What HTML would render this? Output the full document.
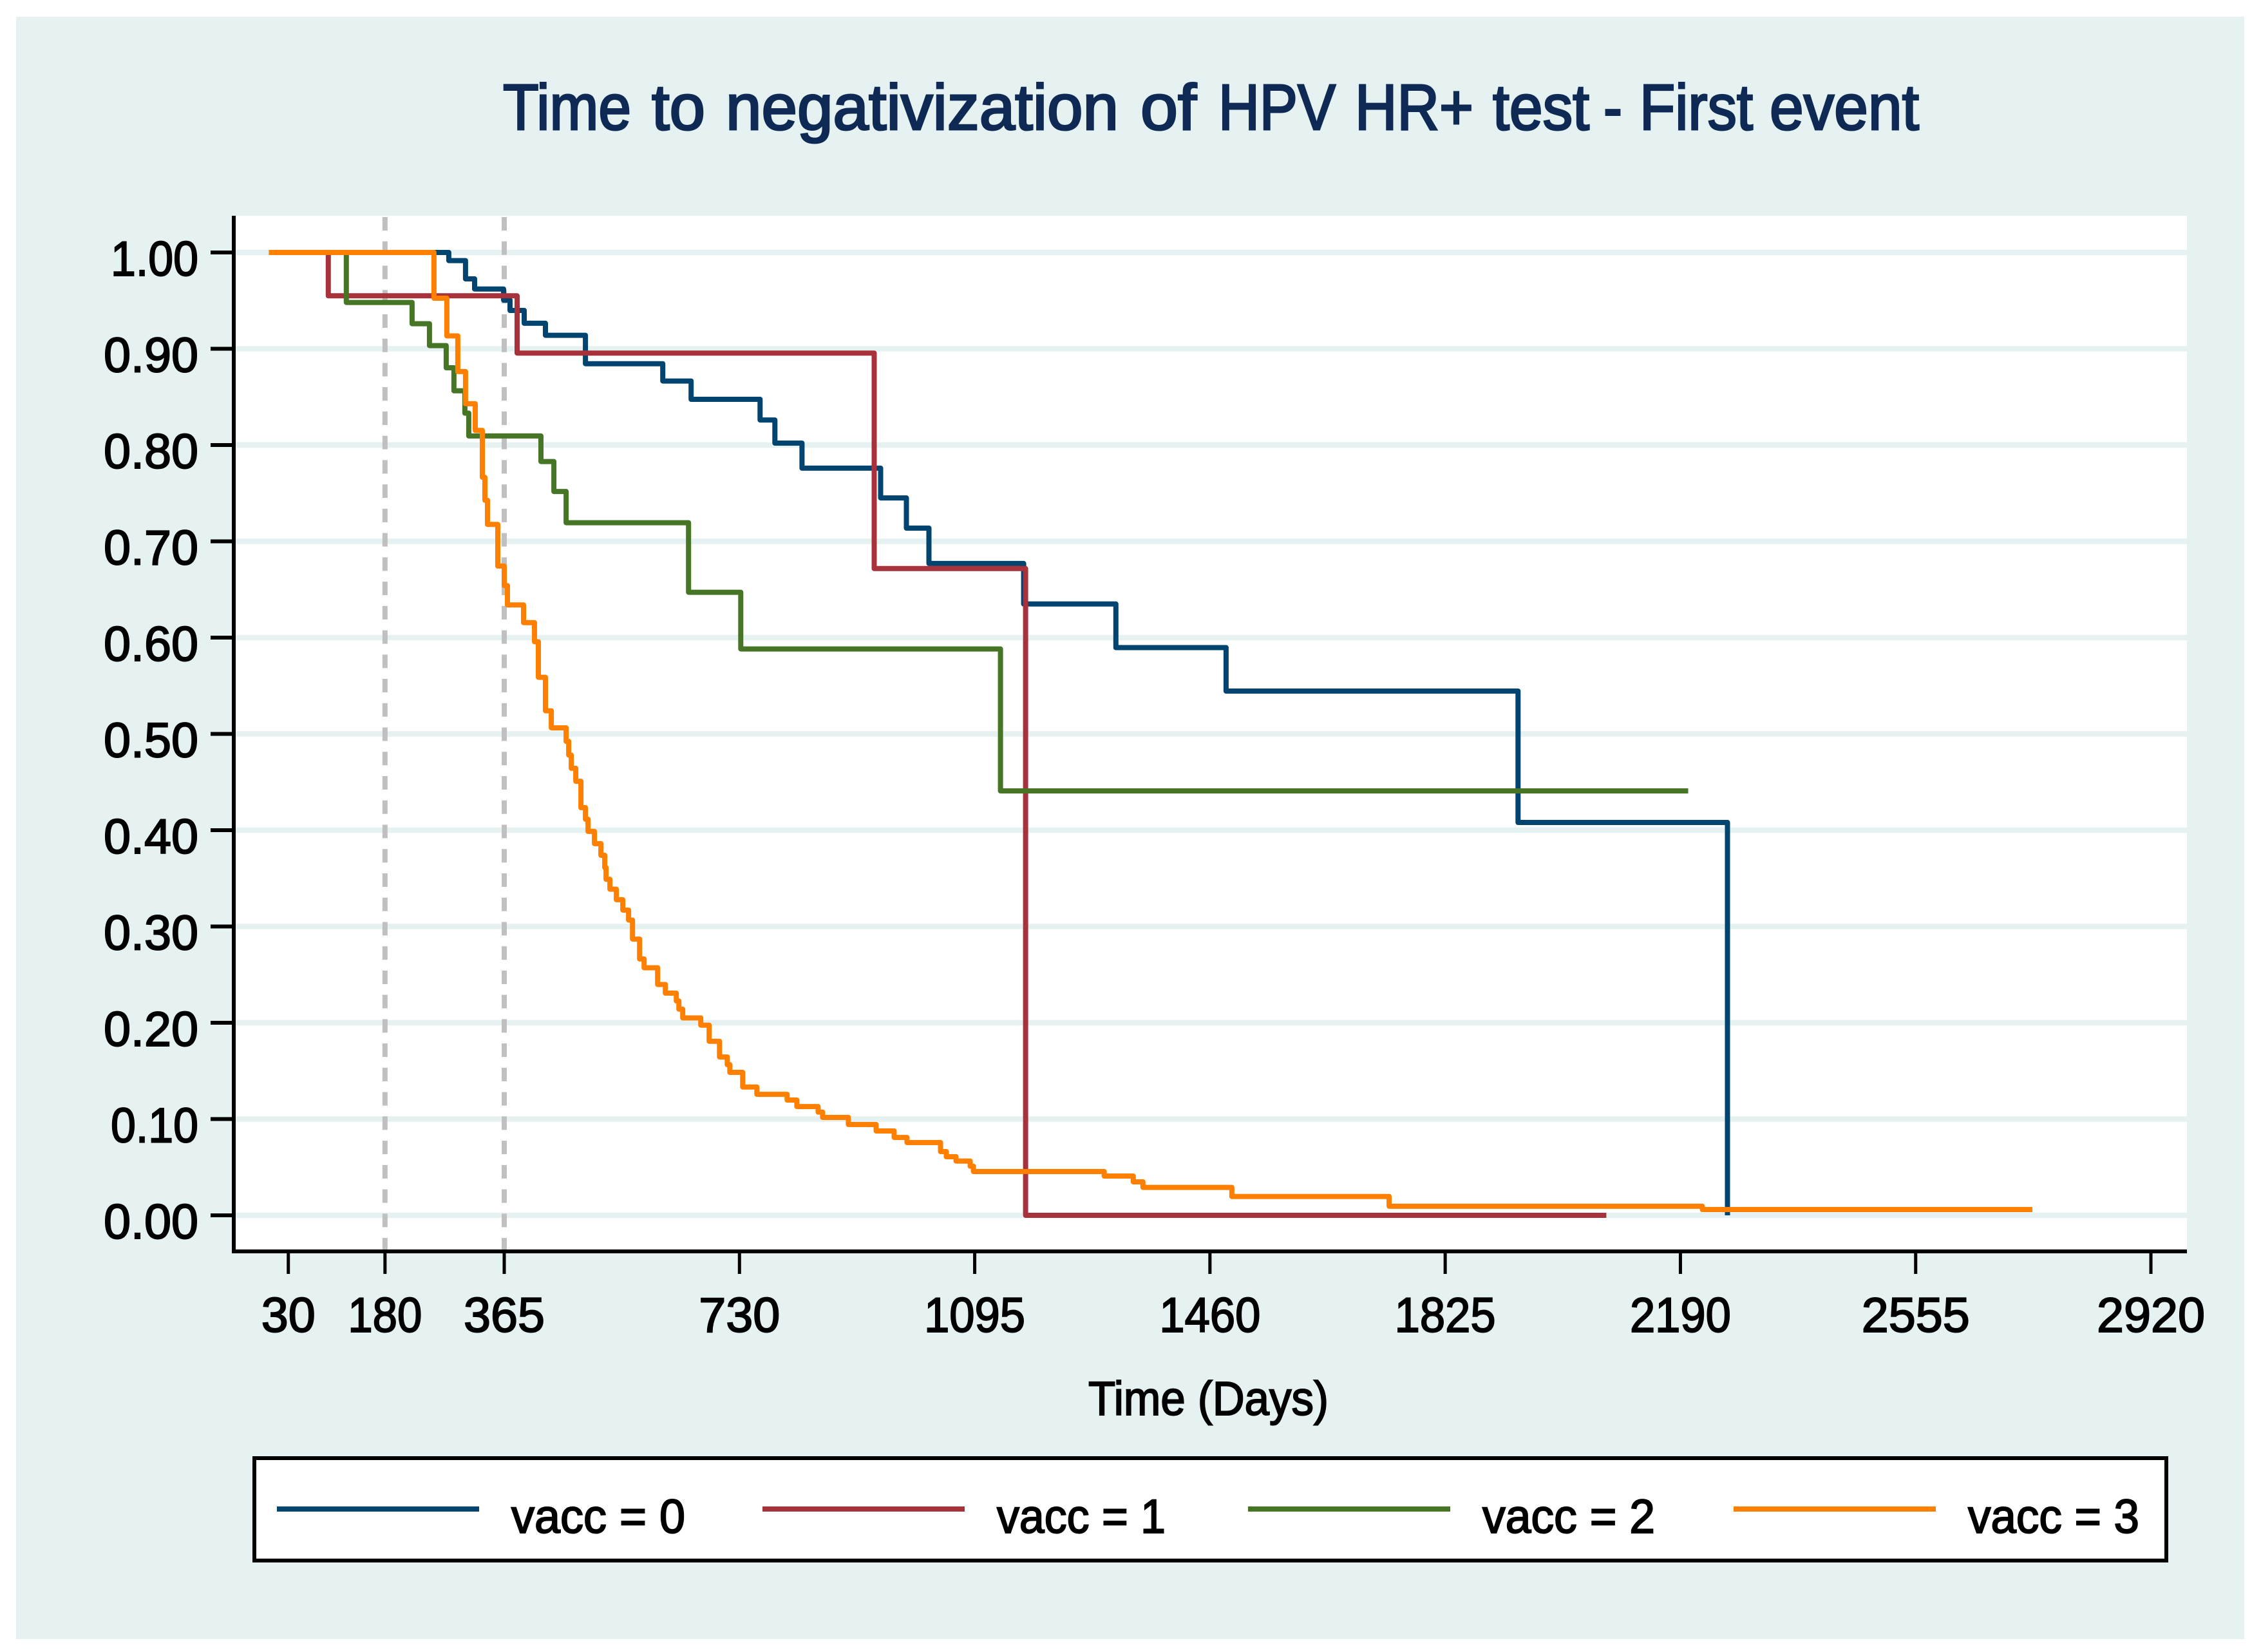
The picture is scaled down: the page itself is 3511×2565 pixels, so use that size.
<!DOCTYPE html>
<html lang="en">
<head>
<meta charset="utf-8">
<title>Time to negativization of HPV HR+ test - First event</title>
<style>
html,body{margin:0;padding:0;background:#fff;}
svg{display:block;}
text{font-family:"Liberation Sans",sans-serif;fill:#000;stroke:#000;stroke-width:2px;}
</style>
</head>
<body>
<svg id="chart" xmlns="http://www.w3.org/2000/svg" width="3511" height="2565" viewBox="0 0 3511 2565">
  <rect x="0" y="0" width="3511" height="2565" fill="#ffffff"/>
  <rect x="25" y="26" width="3460" height="2519" fill="#e6f2f1"/>
  <rect x="363" y="335" width="3033" height="1608" fill="#ffffff"/>
  <text y="201" font-size="100" style="fill:#0e2a54;stroke:#0e2a54;stroke-width:3px"><tspan x="781" textLength="199" lengthAdjust="spacingAndGlyphs">Time</tspan> <tspan x="1012" textLength="83" lengthAdjust="spacingAndGlyphs">to</tspan> <tspan x="1127" textLength="610" lengthAdjust="spacingAndGlyphs">negativization</tspan> <tspan x="1771" textLength="87" lengthAdjust="spacingAndGlyphs">of</tspan> <tspan x="1892" textLength="182" lengthAdjust="spacingAndGlyphs">HPV</tspan> <tspan x="2104" textLength="184" lengthAdjust="spacingAndGlyphs">HR+</tspan> <tspan x="2318" textLength="150" lengthAdjust="spacingAndGlyphs">test</tspan> <tspan x="2490" textLength="29" lengthAdjust="spacingAndGlyphs">-</tspan> <tspan x="2546" textLength="176" lengthAdjust="spacingAndGlyphs">First</tspan> <tspan x="2748" textLength="232" lengthAdjust="spacingAndGlyphs">event</tspan></text>
  <g id="grid"></g>
  <g id="reflines"></g>
  <g id="series"></g>
  <line x1="363" y1="335" x2="363" y2="1946" stroke="#000" stroke-width="6"/>
  <line x1="360" y1="1943" x2="3396" y2="1943" stroke="#000" stroke-width="6"/>
  <g id="yticks"></g>
  <g id="xticks"></g>
  <text x="1690" y="2197" font-size="74" textLength="373" lengthAdjust="spacingAndGlyphs">Time (Days)</text>
  <g>
    <rect x="395" y="2264" width="2969" height="159" fill="#fff" stroke="#000" stroke-width="6"/>
    <line x1="430" y1="2343" x2="744" y2="2343" stroke="#00446f" stroke-width="8"/>
    <text x="794" y="2380" font-size="74" textLength="270" lengthAdjust="spacingAndGlyphs">vacc = 0</text>
    <line x1="1184" y1="2343" x2="1498" y2="2343" stroke="#a8323c" stroke-width="8"/>
    <text x="1548" y="2380" font-size="74" textLength="262" lengthAdjust="spacingAndGlyphs">vacc = 1</text>
    <line x1="1938" y1="2343" x2="2252" y2="2343" stroke="#467526" stroke-width="8"/>
    <text x="2302" y="2380" font-size="74" textLength="268" lengthAdjust="spacingAndGlyphs">vacc = 2</text>
    <line x1="2692" y1="2343" x2="3006" y2="2343" stroke="#ff8000" stroke-width="8"/>
    <text x="3056" y="2380" font-size="74" textLength="266" lengthAdjust="spacingAndGlyphs">vacc = 3</text>
  </g>
</svg>
<script>
const xTickValues = [30, 180, 365, 730, 1095, 1460, 1825, 2190, 2555, 2920];
const xTickLabels = ["30", "180", "365", "730", "1095", "1460", "1825", "2190", "2555", "2920"];
const yTickValues = [0, 0.1, 0.2, 0.3, 0.4, 0.5, 0.6, 0.7, 0.8, 0.9, 1.0];
const yTickLabels = ["0.00", "0.10", "0.20", "0.30", "0.40", "0.50", "0.60", "0.70", "0.80", "0.90", "1.00"];
const refLineDays = [180, 365];

const vacc0Days = [279, 305, 319, 364, 374, 396, 429, 491, 611, 655, 762, 785, 827, 949, 989, 1024, 1171, 1314, 1485, 1938, 2263];
const vacc0Surv = [0.9916, 0.9726, 0.9621, 0.9505, 0.9398, 0.9265, 0.914, 0.8845, 0.8665, 0.8475, 0.826, 0.802, 0.776, 0.7451, 0.7137, 0.677, 0.6349, 0.5896, 0.5445, 0.408, 0];
const vacc0End = 2263;

const vacc1Days = [92, 385, 939, 1174];
const vacc1Surv = [0.955, 0.8955, 0.6717, 0];
const vacc1End = 2075;

const vacc2Days = [120, 222, 249, 275, 287, 304, 310, 422, 442, 461, 651, 732, 1135];
const vacc2Surv = [0.9481, 0.926, 0.9033, 0.8803, 0.8564, 0.8331, 0.8094, 0.7829, 0.7518, 0.7193, 0.6471, 0.5882, 0.4408];
const vacc2End = 2202;

const vacc3Days = [256, 276, 293, 305, 320, 331, 335, 339, 355, 365, 370, 395, 412, 418, 429, 438, 461, 465, 469, 476, 484, 491, 495, 505, 515, 521, 523, 529, 539, 549, 558, 564, 575, 582, 603, 615, 632, 636, 642, 670, 683, 699, 711, 715, 735, 757, 804, 819, 852, 859, 899, 942, 970, 990, 1042, 1051, 1066, 1088, 1093, 1296, 1341, 1356, 1494, 1738, 2224];
const vacc3Surv = [0.9525, 0.9134, 0.8763, 0.8429, 0.8152, 0.7665, 0.7426, 0.7176, 0.6743, 0.654, 0.634, 0.6155, 0.5957, 0.5588, 0.524, 0.5063, 0.4923, 0.478, 0.4643, 0.4508, 0.4234, 0.4114, 0.3987, 0.386, 0.3739, 0.3612, 0.349, 0.3387, 0.3278, 0.317, 0.3066, 0.2869, 0.2663, 0.2571, 0.2397, 0.2308, 0.2227, 0.2141, 0.205, 0.1975, 0.1808, 0.1645, 0.1565, 0.1485, 0.1333, 0.1257, 0.1197, 0.113, 0.1072, 0.1017, 0.0943, 0.0876, 0.0809, 0.0756, 0.0662, 0.0609, 0.0564, 0.051, 0.0455, 0.0408, 0.0348, 0.029, 0.0196, 0.0094, 0.006];
const vacc3End = 2736;

const SVG_NS = "http://www.w3.org/2000/svg";
function xScale(d) { return 417.7 + 1.0008 * d; }
function yScale(v) { return 1887 - 1495 * v; }
function stepPath(days, surv, end) {
  let cx = xScale(0), cy = yScale(1);
  let d = "M" + cx.toFixed(1) + " " + cy.toFixed(1);
  for (let i = 0; i < days.length; i++) {
    cx = xScale(days[i]);
    d += "H" + cx.toFixed(1);
    cy = yScale(surv[i]);
    d += "V" + cy.toFixed(1);
  }
  d += "H" + xScale(end).toFixed(1);
  return d;
}
function labelWidth(str) {
  let w = 0;
  for (const ch of str) {
    w += ch === "." ? 21 : (ch === "1" ? 31 : 42);
  }
  return w;
}

const gridGroup = document.getElementById("grid");
yTickValues.forEach(function (v) {
  const el = document.createElementNS(SVG_NS, "line");
  el.setAttribute("x1", 366);
  el.setAttribute("x2", 3396);
  el.setAttribute("y1", yScale(v));
  el.setAttribute("y2", yScale(v));
  el.setAttribute("stroke", "#e6f2f1");
  el.setAttribute("stroke-width", 8.5);
  
  
  gridGroup.appendChild(el);
});

const refGroup = document.getElementById("reflines");
refLineDays.forEach(function (day) {
  const el = document.createElementNS(SVG_NS, "line");
  el.setAttribute("x1", xScale(day));
  el.setAttribute("x2", xScale(day));
  el.setAttribute("y1", 337);
  el.setAttribute("y2", 1941);
  el.setAttribute("stroke", "#c0c0c0");
  el.setAttribute("stroke-width", 8);
  el.setAttribute("stroke-dasharray", "21 16.74");
  
  
  refGroup.appendChild(el);
});

const seriesGroup = document.getElementById("series");
const seriesDefs = [
  [vacc0Days, vacc0Surv, vacc0End, "#00446f"],
  [vacc1Days, vacc1Surv, vacc1End, "#a8323c"],
  [vacc2Days, vacc2Surv, vacc2End, "#467526"],
  [vacc3Days, vacc3Surv, vacc3End, "#ff8000"]
];
seriesDefs.forEach(function (s) {
  const el = document.createElementNS(SVG_NS, "path");
  el.setAttribute("d", stepPath(s[0], s[1], s[2]));
  el.setAttribute("fill", "none");
  el.setAttribute("stroke", s[3]);
  el.setAttribute("stroke-width", 8);
  el.setAttribute("stroke-linejoin", "round");
  el.setAttribute("stroke-linecap", "butt");
  
  
  seriesGroup.appendChild(el);
});

const yTickGroup = document.getElementById("yticks");
yTickValues.forEach(function (v, i) {
  const tick = document.createElementNS(SVG_NS, "line");
  tick.setAttribute("x1", 327);
  tick.setAttribute("x2", 363);
  tick.setAttribute("y1", yScale(v));
  tick.setAttribute("y2", yScale(v));
  tick.setAttribute("stroke", "#000");
  tick.setAttribute("stroke-width", 6);
  
  
  yTickGroup.appendChild(tick);
  const label = document.createElementNS(SVG_NS, "text");
  label.setAttribute("x", 308);
  label.setAttribute("y", yScale(v) + 36);
  label.setAttribute("font-size", 76);
  label.setAttribute("text-anchor", "end");
  label.setAttribute("textLength", labelWidth(yTickLabels[i]));
  label.setAttribute("lengthAdjust", "spacingAndGlyphs");
  
  
  label.textContent = yTickLabels[i];
  yTickGroup.appendChild(label);
});

const xTickGroup = document.getElementById("xticks");
xTickValues.forEach(function (d, i) {
  const tick = document.createElementNS(SVG_NS, "line");
  tick.setAttribute("x1", xScale(d));
  tick.setAttribute("x2", xScale(d));
  tick.setAttribute("y1", 1943);
  tick.setAttribute("y2", 1978);
  tick.setAttribute("stroke", "#000");
  tick.setAttribute("stroke-width", 5);
  
  
  xTickGroup.appendChild(tick);
  const label = document.createElementNS(SVG_NS, "text");
  label.setAttribute("x", xScale(d));
  label.setAttribute("y", 2068);
  label.setAttribute("font-size", 76);
  label.setAttribute("text-anchor", "middle");
  label.setAttribute("textLength", labelWidth(xTickLabels[i]));
  label.setAttribute("lengthAdjust", "spacingAndGlyphs");
  
  
  label.textContent = xTickLabels[i];
  xTickGroup.appendChild(label);
});
</script>
</body>
</html>
